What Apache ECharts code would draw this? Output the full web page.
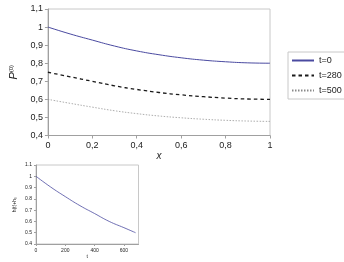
<!DOCTYPE html>
<html>
<head>
<meta charset="utf-8">
<script src="https://cdn.jsdelivr.net/npm/echarts@6/dist/echarts.min.js"></script>
<style>
  html, body { margin: 0; padding: 0; background: #fff; }
  #chart { width: 344px; height: 262px; }
</style>
</head>
<body>
<div id="chart"></div>
<script>
// main chart: P(0) vs x for three times
const xValues = [0, 0.1, 0.2, 0.3, 0.4, 0.5, 0.6, 0.7, 0.8, 0.9, 1];
const pT0 = [1.0, 0.962, 0.928, 0.895, 0.868, 0.847, 0.83, 0.817, 0.808, 0.802, 0.80];
const pT280 = [0.75, 0.725, 0.70, 0.675, 0.655, 0.638, 0.625, 0.615, 0.607, 0.602, 0.60];
const pT500 = [0.60, 0.578, 0.557, 0.537, 0.521, 0.508, 0.498, 0.49, 0.484, 0.48, 0.478];
const seriesNames = ['t=0', 't=280', 't=500'];

// small chart: h(t)+h0 vs t
const tValues = [0, 100, 200, 300, 400, 500, 600, 680];
const hValues = [1.0, 0.905, 0.82, 0.74, 0.67, 0.60, 0.545, 0.50];

const comma = v => String(+v.toFixed(1)).replace('.', ',');
const toPairs = (xs, ys) => xs.map((x, i) => [x, ys[i]]);

const chart = echarts.init(document.getElementById('chart'));

const axisGray = '#a0a0a0';
const font = 'Liberation Sans, Arial, sans-serif';

const opt = {
  animation: false,
  textStyle: { fontFamily: font },
  grid: [
    { left: 37, top: 9, width: 233, height: 126.5, show: true, borderColor: '#c8c8c8', borderWidth: 1 },
    { left: 36, top: 165, width: 102.5, height: 79, show: true, borderColor: '#c8c8c8', borderWidth: 1 }
  ],
  legend: {
    data: seriesNames,
    orient: 'vertical',
    left: 288,
    top: 52,
    itemWidth: 22,
    itemHeight: 8,
    itemGap: 6,
    padding: [4, 6, 4, 3],
    borderColor: '#c8c8c8',
    borderWidth: 1,
    itemStyle: { opacity: 0 },
    textStyle: { fontSize: 9, color: '#222', fontFamily: font }
  },
  xAxis: [
    {
      gridIndex: 0, type: 'value', min: 0, max: 1, interval: 0.2,
      name: 'x', nameLocation: 'middle', nameGap: 12,
      nameTextStyle: { fontStyle: 'italic', fontSize: 10, color: '#222' },
      axisLine: { lineStyle: { color: axisGray } },
      axisTick: { show: true, length: 3, lineStyle: { color: axisGray } },
      axisLabel: { fontSize: 9, color: '#222', formatter: comma, margin: 6 },
      splitLine: { show: false }
    },
    {
      gridIndex: 1, type: 'value', min: 0, max: 700, interval: 200,
      name: 't', nameLocation: 'middle', nameGap: 10,
      nameTextStyle: { fontSize: 5, color: '#222' },
      axisLine: { lineStyle: { color: axisGray } },
      axisTick: { show: true, length: 2, lineStyle: { color: axisGray } },
      axisLabel: { fontSize: 5, color: '#222', margin: 4, showMaxLabel: false },
      splitLine: { show: false }
    }
  ],
  yAxis: [
    {
      gridIndex: 0, type: 'value', min: 0.4, max: 1.1, interval: 0.1,
      name: '{p|P}{s|(0)}', nameLocation: 'middle', nameGap: 22,
      nameTextStyle: {
        rich: {
          p: { fontStyle: 'italic', fontSize: 11, color: '#222', fontFamily: font },
          s: { fontSize: 6, color: '#222', verticalAlign: 'top', padding: [0, 0, 6, 0], fontFamily: font }
        }
      },
      axisLine: { show: true, lineStyle: { color: axisGray } },
      axisTick: { show: true, length: 3, lineStyle: { color: axisGray } },
      axisLabel: { fontSize: 9, color: '#222', formatter: comma, margin: 5 },
      splitLine: { show: false }
    },
    {
      gridIndex: 1, type: 'value', min: 0.4, max: 1.1, interval: 0.1,
      name: 'h(t)+h₀', nameLocation: 'middle', nameGap: 19,
      nameTextStyle: { fontSize: 5, color: '#222' },
      axisLine: { show: true, lineStyle: { color: axisGray } },
      axisTick: { show: true, length: 2, lineStyle: { color: axisGray } },
      axisLabel: { fontSize: 5, color: '#222', margin: 4, formatter: v => String(+v.toFixed(1)) },
      splitLine: { show: false }
    }
  ],
  series: [
    {
      name: seriesNames[0], type: 'line', xAxisIndex: 0, yAxisIndex: 0,
      data: toPairs(xValues, pT0), smooth: true, symbol: 'none',
      lineStyle: { color: '#4a4aa0', width: 1 }, itemStyle: { color: '#4a4aa0' }
    },
    {
      name: seriesNames[1], type: 'line', xAxisIndex: 0, yAxisIndex: 0,
      data: toPairs(xValues, pT280), smooth: true, symbol: 'none',
      lineStyle: { color: '#1a1a1a', width: 1.3, type: [3.5, 3] }, itemStyle: { color: '#1a1a1a' }
    },
    {
      name: seriesNames[2], type: 'line', xAxisIndex: 0, yAxisIndex: 0,
      data: toPairs(xValues, pT500), smooth: true, symbol: 'none',
      lineStyle: { color: '#8a8a8a', width: 0.7, type: [1.5, 1.5] }, itemStyle: { color: '#8a8a8a' }
    },
    {
      name: 'h', type: 'line', xAxisIndex: 1, yAxisIndex: 1,
      data: toPairs(tValues, hValues), smooth: true, symbol: 'none',
      lineStyle: { color: '#4a4aa0', width: 0.8 }, itemStyle: { color: '#4a4aa0' }
    }
  ]
};

chart.setOption(opt);
</script>
</body>
</html>
